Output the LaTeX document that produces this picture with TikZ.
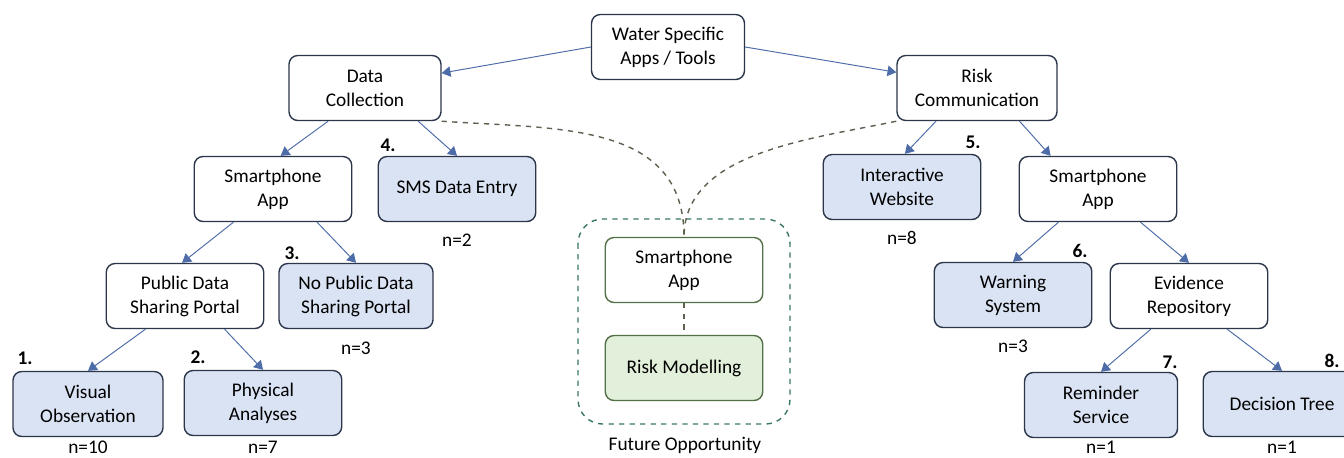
\documentclass[tikz,border=0pt]{standalone}
\usepackage{fontspec}
\setmainfont{Carlito}
\usepackage{tikz}
\usetikzlibrary{arrows.meta}

\definecolor{boxline}{RGB}{44,54,74}
\definecolor{leafblue}{RGB}{218,227,243}
\definecolor{arrline}{RGB}{78,108,168}
\definecolor{futfill}{RGB}{226,239,218}
\definecolor{futline}{RGB}{84,112,72}
\definecolor{futdash}{RGB}{58,122,92}
\definecolor{linkdash}{RGB}{92,96,80}

\begin{document}
\begin{tikzpicture}[x=0.02cm, y=-0.02cm,
  box/.style={shape=rectangle, rounded corners=5pt, draw=boxline, line width=0.8pt, fill=white,
    minimum width=3.15cm, minimum height=1.3cm, align=center, font=\fontsize{11}{13.6}\selectfont},
  leaf/.style={box, fill=leafblue},
  arr/.style={draw=arrline, line width=0.55pt, -{Triangle[width=6pt,length=5pt]}},
  numlab/.style={font=\fontsize{11}{13}\selectfont\bfseries},
  cnt/.style={font=\fontsize{11}{13}\selectfont}]
\clip (0,0) rectangle (1344,457);

% top level
\node[box, minimum width=3.06cm](wat) at (668,47) {Water Specific\\Apps / Tools};
\node[box, minimum width=3.04cm](dc) at (365,88) {Data\\Collection};
\node[box, minimum width=3.2cm](rc) at (977,88) {Risk\\Communication};

% data collection branch
\node[box](spl) at (273,189) {Smartphone\\App};
\node[leaf](sms) at (457,189) {SMS Data Entry};
\node[box](pub) at (185,296) {Public Data\\Sharing Portal};
\node[leaf, minimum width=3.08cm](nop) at (356,296) {No Public Data\\Sharing Portal};
\node[leaf, minimum width=3.0cm](vis) at (88,404) {Visual\\Observation};
\node[leaf](phy) at (263,403) {Physical\\Analyses};

% risk communication branch
\node[leaf](int) at (902,187) {Interactive\\Website};
\node[box](spr) at (1098,189) {Smartphone\\App};
\node[leaf](war) at (1013,295) {Warning\\System};
\node[box](evi) at (1189,296) {Evidence\\Repository};
\node[leaf, minimum width=3.06cm](rem) at (1101,405) {Reminder\\Service};
\node[leaf](dec) at (1282,404) {Decision Tree};

% future opportunity
\node[box, draw=futline](fsp) at (684,270) {Smartphone\\App};
\node[box, draw=futline, fill=futfill](rmod) at (684,368) {Risk Modelling};
\draw[futdash, line width=0.8pt, dashed, rounded corners=14pt] (578,219) rectangle (790,424);
\node[cnt](fut) at (685,445) {Future Opportunity};

% numbers and counts
\node[numlab](l1) at (25,358) {1.};
\node[numlab](l2) at (198,357) {2.};
\node[numlab](l3) at (292,253) {3.};
\node[numlab](l4) at (388,145) {4.};
\node[numlab](l5) at (973,142) {5.};
\node[numlab](l6) at (1080,251) {6.};
\node[numlab](l7) at (1170,362) {7.};
\node[numlab](l8) at (1332,361) {8.};
\node[cnt](n1) at (88,447) {n=10};
\node[cnt](n2) at (263,447) {n=7};
\node[cnt](n3) at (356,348) {n=3};
\node[cnt](n4) at (457,240) {n=2};
\node[cnt](n5) at (902,238) {n=8};
\node[cnt](n6) at (1013,346) {n=3};
\node[cnt](n7) at (1101,447) {n=1};
\node[cnt](n8) at (1282,447) {n=1};

% arrows
\draw[arr] (wat.west) -- (dc.11);
\draw[arr] (wat.east) -- (rc.169);
\draw[arr] (dc.-138) -- (spl.77);
\draw[arr] (dc.-32) -- (sms.north);
\draw[arr] (spl.-140) -- (pub.95);
\draw[arr] (spl.-37) -- (nop.north);
\draw[arr] (pub.-140) -- (vis.north);
\draw[arr] (pub.-40) -- (phy.north);
\draw[arr] (rc.-141) -- (int.85);
\draw[arr] (rc.-38) -- (spr.145);
\draw[arr] (spr.-140) -- (war.north);
\draw[arr] (spr.-38) -- (evi.north);
\draw[arr] (evi.-139) -- (rem.north);
\draw[arr] (evi.-41) -- (dec.north);

% dashed links
\draw[linkdash, line width=0.8pt, dashed] (dc.south east) to[out=-4, in=90, looseness=1.1] (fsp.north);
\draw[linkdash, line width=0.8pt, dashed] (rc.south west) to[out=192, in=90, looseness=0.9] (fsp.north);
\draw[linkdash, line width=0.8pt, dashed] (fsp.south) -- (rmod.north);
\end{tikzpicture}
\end{document}
